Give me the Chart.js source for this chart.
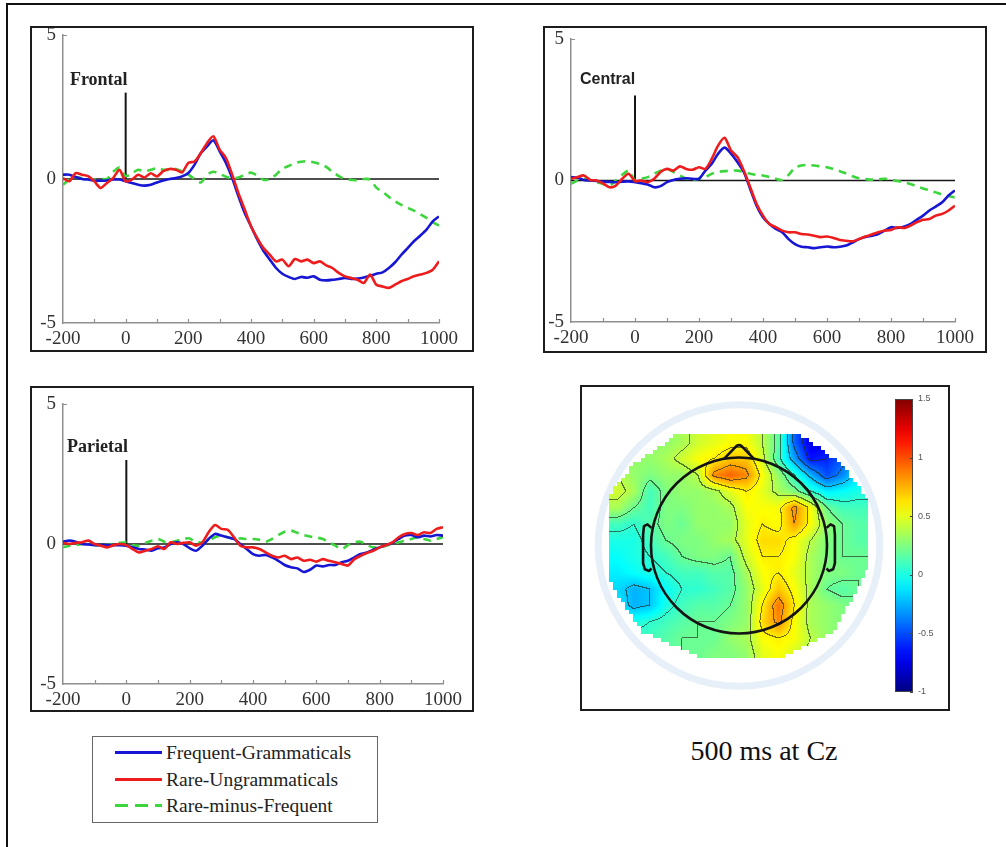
<!DOCTYPE html>
<html>
<head>
<meta charset="utf-8">
<script src="https://cdn.jsdelivr.net/npm/chart.js@4.4.0/dist/chart.umd.min.js"></script>
<style>
  html, body { margin: 0; padding: 0; background: #fff; }
  body { width: 1006px; height: 847px; position: relative; overflow: hidden; font-family: 'Liberation Serif', 'Times New Roman', serif; }
  canvas { position: absolute; }
  .frame { position: absolute; left: 6px; top: 3px; width: 1200px; height: 1000px; border-left: 2px solid #111; border-top: 2px solid #111; }
  .box { position: absolute; box-sizing: border-box; border: 2px solid #1c1c1c; pointer-events: none; }
  #legend { position: absolute; left: 92px; top: 736px; width: 286px; height: 87px; box-sizing: border-box; border: 1.5px solid #666; }
  #legend .row { position: absolute; left: 0; height: 26px; width: 100%; }
  #legend svg { position: absolute; left: 21px; top: 0; }
  #legend span { position: absolute; left: 73px; top: 0px; font-size: 19.5px; line-height: 25px; color: #222; white-space: nowrap; }
  #caption { position: absolute; left: 614px; top: 737px; width: 300px; text-align: center; font-size: 28px; line-height: 28px; color: #111; }
</style>
</head>
<body>
<div class="frame"></div>

<div id="legend"></div>
<div id="caption"></div>

<script>
// ERP sample times (ms)
const times = [-200, -180, -160, -140, -120, -100, -80, -60, -40, -20,
  0, 20, 40, 60, 80, 100, 120, 140, 160, 180,
  200, 220, 240, 260, 280, 300, 320, 340, 360, 380,
  400, 420, 440, 460, 480, 500, 520, 540, 560, 580,
  600, 620, 640, 660, 680, 700, 720, 740, 760, 780,
  800, 820, 840, 860, 880, 900, 920, 940, 960, 980,
  1000];

const seriesNames = ['Frequent-Grammaticals', 'Rare-Ungrammaticals', 'Rare-minus-Frequent'];
const panelNames = ['Frontal', 'Central', 'Parietal'];

// amplitudes (microvolts)
const frontalFrequent = [0.15, 0.15, 0.07, 0.0, -0.02, -0.06, -0.06, -0.05, -0.02, -0.02,
  -0.08, -0.14, -0.2, -0.23, -0.2, -0.12, -0.05, 0.0, 0.03, 0.09,
  0.21, 0.5, 0.9, 1.13, 1.34, 0.96, 0.56, 0.03, -0.6, -1.18,
  -1.64, -2.1, -2.5, -2.8, -3.09, -3.29, -3.4, -3.47, -3.4, -3.43,
  -3.38, -3.5, -3.52, -3.5, -3.47, -3.44, -3.47, -3.46, -3.42, -3.36,
  -3.29, -3.24, -3.09, -2.89, -2.63, -2.4, -2.16, -1.97, -1.76, -1.47,
  -1.3];
const frontalRare = [0.03, -0.08, 0.2, 0.15, 0.1, -0.08, -0.31, -0.14, 0.03, 0.32,
  -0.08, -0.02, 0.15, 0.05, 0.2, 0.09, 0.27, 0.35, 0.32, 0.23,
  0.56, 0.61, 0.9, 1.25, 1.48, 1.02, 0.73, 0.15, -0.49, -1.06,
  -1.64, -2.05, -2.4, -2.63, -2.86, -2.8, -3.03, -2.78, -2.86, -2.8,
  -2.92, -2.86, -3.0, -3.09, -3.26, -3.38, -3.44, -3.5, -3.61, -3.32,
  -3.67, -3.73, -3.78, -3.67, -3.55, -3.47, -3.38, -3.32, -3.26, -3.15,
  -2.86];
const frontalDiff = [-0.2, -0.02, 0.07, 0.03, 0.0, -0.02, 0.0, 0.0, 0.25, 0.4,
  0.1, 0.2, 0.32, 0.27, 0.32, 0.38, 0.32, 0.32, 0.35, 0.27,
  0.15, 0.0, -0.12, 0.15, 0.25, 0.18, 0.08, 0.03, 0.05, 0.15,
  0.22, 0.12, -0.03, 0.0, 0.15, 0.35, 0.45, 0.55, 0.6, 0.62,
  0.58, 0.52, 0.42, 0.25, 0.1, 0.0, -0.03, -0.05, 0.0, -0.02,
  -0.3, -0.45, -0.62, -0.78, -0.9, -1.0, -1.1, -1.22, -1.35, -1.5,
  -1.62];

const centralFrequent = [0.12, 0.1, 0.02, 0.0, -0.02, -0.04, -0.05, -0.06, -0.04, -0.03,
  -0.06, -0.1, -0.14, -0.24, -0.2, -0.06, 0.02, 0.06, 0.08, 0.06,
  0.06, 0.35, 0.59, 0.95, 1.16, 0.95, 0.65, 0.3, -0.3, -0.89,
  -1.3, -1.54, -1.71, -1.83, -2.07, -2.25, -2.34, -2.36, -2.39, -2.36,
  -2.33, -2.36, -2.34, -2.3, -2.19, -2.07, -2.0, -1.95, -1.89, -1.77,
  -1.65, -1.68, -1.63, -1.54, -1.39, -1.24, -1.06, -0.92, -0.77, -0.53,
  -0.35];
const centralRare = [0.06, 0.12, 0.18, 0.02, 0.0, -0.1, -0.24, -0.18, 0.06, 0.24,
  -0.02, 0.0, -0.06, 0.06, 0.3, 0.41, 0.35, 0.5, 0.41, 0.38,
  0.47, 0.41, 0.77, 1.24, 1.51, 1.06, 0.83, 0.35, -0.24, -0.83,
  -1.24, -1.54, -1.65, -1.77, -1.83, -1.83, -1.89, -1.91, -1.95, -2.0,
  -1.98, -2.03, -2.1, -2.13, -2.15, -2.07, -1.98, -1.91, -1.83, -1.77,
  -1.75, -1.65, -1.68, -1.6, -1.48, -1.39, -1.36, -1.24, -1.18, -1.06,
  -0.89];
const centralDiff = [-0.12, 0.0, 0.06, 0.0, -0.06, -0.12, -0.18, 0.0, 0.2, 0.35,
  0.0, 0.06, 0.12, 0.24, 0.35, 0.41, 0.3, 0.18, 0.06, 0.02,
  0.06, 0.12, 0.24, 0.3, 0.33, 0.35, 0.35, 0.3, 0.24, 0.2,
  0.18, 0.12, 0.06, 0.02, 0.2, 0.45, 0.53, 0.55, 0.53, 0.5,
  0.47, 0.4, 0.33, 0.25, 0.15, 0.08, 0.05, 0.03, 0.04, 0.06,
  0.03, -0.02, -0.06, -0.12, -0.2, -0.28, -0.35, -0.42, -0.5, -0.55,
  -0.6];

const parietalFrequent = [0.08, 0.12, 0.08, 0.0, -0.02, -0.04, -0.04, -0.04, -0.04, -0.04,
  -0.06, -0.12, -0.18, -0.2, -0.24, -0.15, -0.12, 0.0, 0.06, 0.0,
  -0.15, -0.24, -0.06, 0.18, 0.36, 0.3, 0.24, 0.18, 0.0, -0.18,
  -0.36, -0.42, -0.39, -0.48, -0.6, -0.75, -0.83, -0.87, -1.0, -0.92,
  -0.77, -0.8, -0.75, -0.75, -0.65, -0.6, -0.48, -0.36, -0.3, -0.2,
  -0.12, -0.04, 0.04, 0.18, 0.3, 0.32, 0.24, 0.3, 0.27, 0.32,
  0.3];
const parietalRare = [0.04, 0.0, 0.04, 0.06, 0.12, 0.0, -0.06, -0.12, -0.04, 0.0,
  -0.04, -0.18, -0.3, -0.24, -0.18, -0.08, -0.18, 0.06, 0.0, 0.04,
  0.06, -0.06, 0.06, 0.42, 0.68, 0.54, 0.51, 0.24, -0.06, -0.12,
  -0.12, -0.18, -0.3, -0.42, -0.48, -0.42, -0.54, -0.48, -0.6, -0.56,
  -0.63, -0.54, -0.6, -0.65, -0.71, -0.77, -0.54, -0.42, -0.32, -0.24,
  -0.12, -0.04, 0.06, 0.24, 0.36, 0.39, 0.32, 0.42, 0.39, 0.54,
  0.6];
const parietalDiff = [-0.12, -0.06, -0.04, 0.0, 0.0, -0.03, -0.06, -0.03, 0.0, 0.04,
  0.06, -0.04, -0.06, 0.04, 0.12, 0.18, 0.08, 0.06, 0.12, 0.18,
  0.2, 0.06, 0.06, 0.12, 0.24, 0.3, 0.24, 0.18, 0.2, 0.18,
  0.18, 0.15, 0.08, 0.18, 0.32, 0.44, 0.48, 0.4, 0.32, 0.27,
  0.23, 0.18, 0.06, -0.06, -0.18, -0.04, 0.06, 0.08, -0.04, -0.12,
  -0.12, -0.06, 0.0, 0.06, 0.12, 0.18, 0.23, 0.18, 0.12, 0.18,
  0.24];

const xTicks = [-200, 0, 200, 400, 600, 800, 1000];
const yTicks = [-5, 0, 5];
const onsetHeight = 3;

// scalp map at 500 ms, rows front (top) to back, columns left to right
const topoValues = [
  [0.3, 0.3, 0.3, 0.3, 0.35, 0.45, 0.5, 0.55, 0.55, 0.4, 0.15, -0.45, -0.75, -0.7, -0.5, -0.3],
  [0.3, 0.3, 0.3, 0.35, 0.45, 0.55, 0.6, 0.7, 0.7, 0.45, 0.1, -0.3, -0.65, -0.6, -0.45, -0.2],
  [0.4, 0.3, 0.25, 0.3, 0.3, 0.4, 0.85, 0.95, 0.85, 0.55, 0.3, 0.05, -0.25, -0.5, -0.35, -0.1],
  [0.45, 0.35, 0.1, 0.25, 0.3, 0.3, 0.35, 0.5, 0.6, 0.5, 0.35, 0.25, 0.05, -0.1, -0.05, 0.0],
  [0.35, 0.2, 0.1, 0.25, 0.25, 0.3, 0.3, 0.35, 0.55, 0.55, 0.55, 0.85, 0.55, 0.2, 0.1, 0.1],
  [0.1, 0.05, 0.15, 0.25, 0.2, 0.3, 0.3, 0.3, 0.5, 0.6, 0.55, 0.8, 0.55, 0.3, 0.2, 0.15],
  [0.0, 0.0, 0.1, 0.2, 0.25, 0.25, 0.3, 0.35, 0.5, 0.65, 0.65, 0.55, 0.4, 0.25, 0.2, 0.15],
  [-0.05, 0.0, 0.05, 0.1, 0.2, 0.25, 0.25, 0.2, 0.45, 0.6, 0.6, 0.55, 0.35, 0.25, 0.2, 0.2],
  [-0.1, -0.05, 0.0, 0.05, 0.1, 0.1, 0.15, 0.15, 0.35, 0.55, 0.6, 0.5, 0.35, 0.25, 0.25, 0.2],
  [-0.15, -0.25, -0.2, -0.05, 0.05, 0.05, 0.1, 0.15, 0.3, 0.5, 0.7, 0.55, 0.35, 0.2, 0.15, 0.2],
  [-0.1, -0.25, -0.2, 0.0, 0.1, 0.15, 0.15, 0.2, 0.3, 0.6, 0.9, 0.6, 0.35, 0.3, 0.25, 0.2],
  [0.0, 0.0, 0.05, 0.1, 0.15, 0.2, 0.2, 0.25, 0.3, 0.65, 0.85, 0.55, 0.35, 0.3, 0.25, 0.2],
  [0.1, 0.1, 0.1, 0.15, 0.2, 0.2, 0.2, 0.3, 0.35, 0.55, 0.6, 0.55, 0.4, 0.3, 0.25, 0.2],
  [0.1, 0.1, 0.15, 0.15, 0.2, 0.2, 0.25, 0.25, 0.3, 0.5, 0.55, 0.45, 0.35, 0.3, 0.25, 0.2]
];
const colorbarTicks = [-1, -0.5, 0, 0.5, 1, 1.5];
const contourLevels = [-0.6, -0.4, -0.2, 0.05, 0.2, 0.4, 0.6, 0.8];
const captionText = '500 ms at Cz';

// ---- styling / layout ----
const seriesColors = ['#1616d4', '#ee1c1c', '#3cd63c'];
const axisGray = '#8f8f8f';
const tickFont = { family: "'Liberation Serif', serif", size: 19 };

const erpPanels = [
  { name: panelNames[0], box: [31, 27, 473, 351], area: [63, 35, 439, 323], label: [-178, 3.44],
    labelFont: "bold 18px 'Liberation Serif'", series: [frontalFrequent, frontalRare, frontalDiff] },
  { name: panelNames[1], box: [544, 27, 986, 352], area: [571, 39, 955, 322], label: [-172, 3.55],
    labelFont: "bold 16px 'Liberation Sans'", series: [centralFrequent, centralRare, centralDiff] },
  { name: panelNames[2], box: [31, 387, 473, 711], area: [63, 404, 443, 684], label: [-187, 3.46],
    labelFont: "bold 18px 'Liberation Serif'", series: [parietalFrequent, parietalRare, parietalDiff] }
];

function placeCanvas(left, top, w, h) {
  const c = document.createElement('canvas');
  c.width = w; c.height = h;
  Object.assign(c.style, { left: left + 'px', top: top + 'px', width: w + 'px', height: h + 'px' });
  document.body.appendChild(c);
  return c;
}

function placeBox(l, t, r, b) {
  const d = document.createElement('div');
  d.className = 'box';
  Object.assign(d.style, { left: (l - 1) + 'px', top: (t - 1) + 'px', width: (r - l + 2) + 'px', height: (b - t + 2) + 'px' });
  document.body.appendChild(d);
}

const plainNumber = v => String(v);

function buildErpChart(panel) {
  const [bl, bt, br, bb] = panel.box;
  const [al, at, ar, ab] = panel.area;
  const cl = bl, ct = bt - 16, cw = br - bl, ch = bb - ct;
  const canvas = placeCanvas(cl, ct, cw, ch);
  placeBox(bl, bt, br, bb);

  const pts = vals => times.map((t, i) => ({ x: t, y: vals[i] }));

  // minor ticks, top tick and the region name
  const decor = {
    id: 'erpDecor',
    afterDraw(chart) {
      const { ctx } = chart;
      const xs = chart.scales.x, ys = chart.scales.y;
      ctx.save();
      ctx.strokeStyle = axisGray;
      ctx.lineWidth = 1.2;
      ctx.beginPath();
      for (let t = xs.min + 100; t <= xs.max; t += 100) {
        const px = Math.round(xs.getPixelForValue(t)) + 0.5;
        ctx.moveTo(px, ys.bottom);
        ctx.lineTo(px, ys.bottom - 4);
      }
      const topY = Math.round(ys.getPixelForValue(ys.max)) + 0.5;
      ctx.moveTo(xs.left, topY);
      ctx.lineTo(xs.left + 4, topY);
      ctx.stroke();

      ctx.font = panel.labelFont;
      ctx.fillStyle = '#222';
      ctx.textBaseline = 'middle';
      ctx.textAlign = 'left';
      ctx.fillText(panel.name, xs.getPixelForValue(panel.label[0]), ys.getPixelForValue(panel.label[1]));
      ctx.restore();
    }
  };

  return new Chart(canvas, {
    type: 'line',
    data: {
      datasets: [
        { label: 'baseline', data: [{ x: times[0], y: 0 }, { x: times[times.length - 1], y: 0 }],
          borderColor: '#151515', borderWidth: 1.6, tension: 0, order: 10 },
        { label: 'onset', data: [{ x: 0, y: 0 }, { x: 0, y: onsetHeight }],
          borderColor: '#151515', borderWidth: 2, tension: 0, order: 9 },
        { label: seriesNames[2], data: pts(panel.series[2]), borderColor: seriesColors[2],
          borderWidth: 2.6, borderDash: [8, 6], order: 3 },
        { label: seriesNames[0], data: pts(panel.series[0]), borderColor: seriesColors[0],
          borderWidth: 2.6, order: 2 },
        { label: seriesNames[1], data: pts(panel.series[1]), borderColor: seriesColors[1],
          borderWidth: 2.6, order: 1 }
      ]
    },
    options: {
      responsive: false,
      animation: false,
      events: [],
      layout: { padding: { left: 0, top: at - ct, right: (cl + cw) - ar, bottom: 0 } },
      elements: { point: { radius: 0 }, line: { tension: 0.25, borderJoinStyle: 'round' } },
      plugins: { legend: { display: false }, tooltip: { enabled: false } },
      scales: {
        x: {
          type: 'linear', min: -200, max: 1000,
          afterBuildTicks: s => { s.ticks = xTicks.map(v => ({ value: v })); },
          afterFit: s => { s.height = (ct + ch) - ab; },
          grid: { display: false, drawTicks: false },
          border: { color: axisGray, width: 1.5 },
          ticks: { font: tickFont, color: '#333', padding: 5, maxRotation: 0, autoSkip: false, callback: plainNumber }
        },
        y: {
          type: 'linear', min: -5, max: 5,
          afterBuildTicks: s => { s.ticks = yTicks.map(v => ({ value: v })); },
          afterFit: s => { s.width = al - cl; },
          grid: { display: false, drawTicks: false },
          border: { color: axisGray, width: 1.5 },
          ticks: { font: tickFont, color: '#333', padding: 7, callback: plainNumber }
        }
      }
    },
    plugins: [decor]
  });
}

document.addEventListener('DOMContentLoaded', function() {
  erpPanels.forEach(buildErpChart);
  buildTopoChart();
  buildLegend();
  document.getElementById('caption').textContent = captionText;
});

// ---- scalp map ----
const topoExtent = { xMin: -1.466, xMax: 1.455, yMin: -1.33, yMax: 1.261 };
const topoOutline = [[-0.705, 1.261], [0.693, 1.261], [1.15, 0.94], [1.455, 0.545], [1.455, -0.3],
  [1.07, -0.99], [0.42, -1.30], [-0.35, -1.30], [-1.09, -0.99], [-1.466, -0.42], [-1.466, 0.59], [-1.2, 0.92]];

function jet(t) {
  const c = x => Math.max(0, Math.min(1, x));
  return [c(1.5 - Math.abs(4 * t - 3)), c(1.5 - Math.abs(4 * t - 2)), c(1.5 - Math.abs(4 * t - 1))];
}

function insideOutline(u, v) {
  let inside = false;
  for (let i = 0, j = topoOutline.length - 1; i < topoOutline.length; j = i++) {
    const [xi, yi] = topoOutline[i], [xj, yj] = topoOutline[j];
    if ((yi > v) !== (yj > v) && u < (xj - xi) * (v - yi) / (yj - yi) + xi) inside = !inside;
  }
  return inside;
}

function sampleTopo(u, v) {
  const rows = topoValues.length, cols = topoValues[0].length;
  let gx = (u - topoExtent.xMin) / (topoExtent.xMax - topoExtent.xMin) * cols - 0.5;
  let gy = (topoExtent.yMax - v) / (topoExtent.yMax - topoExtent.yMin) * rows - 0.5;
  gx = Math.max(0, Math.min(cols - 1, gx));
  gy = Math.max(0, Math.min(rows - 1, gy));
  const x0 = Math.floor(gx), y0 = Math.floor(gy);
  const x1 = Math.min(x0 + 1, cols - 1), y1 = Math.min(y0 + 1, rows - 1);
  const fx = gx - x0, fy = gy - y0;
  const a = topoValues[y0][x0] * (1 - fx) + topoValues[y0][x1] * fx;
  const b = topoValues[y1][x0] * (1 - fx) + topoValues[y1][x1] * fx;
  return a * (1 - fy) + b * fy;
}

function levelOf(val) {
  let n = 0;
  for (const l of contourLevels) if (val >= l) n++;
  return n;
}

const topoPlugin = {
  id: 'topoMap',
  afterDraw(chart) {
    const { ctx } = chart;
    const xs = chart.scales.x, ys = chart.scales.y, cb = chart.scales.cb;
    const cx = xs.getPixelForValue(0), cy = ys.getPixelForValue(0);
    const unit = xs.getPixelForValue(1) - cx;

    // pale outer ring
    ctx.save();
    ctx.strokeStyle = '#e7eff9';
    ctx.lineWidth = 7;
    ctx.beginPath();
    ctx.arc(cx, cy, 1.6 * unit, 0, Math.PI * 2);
    ctx.stroke();
    ctx.restore();

    // interpolated field
    const left = Math.floor(xs.getPixelForValue(topoExtent.xMin));
    const right = Math.ceil(xs.getPixelForValue(topoExtent.xMax));
    const top = Math.floor(ys.getPixelForValue(topoExtent.yMax));
    const bottom = Math.ceil(ys.getPixelForValue(topoExtent.yMin));
    const w = right - left, h = bottom - top;
    const field = new Float32Array(w * h);
    const mask = new Uint8Array(w * h);
    const block = 4;
    for (let py = 0; py < h; py++) {
      for (let px = 0; px < w; px++) {
        const u = xs.getValueForPixel(left + px + 0.5);
        const v = ys.getValueForPixel(top + py + 0.5);
        field[py * w + px] = sampleTopo(u, v);
        const bx = Math.floor(px / block) * block + block / 2;
        const by = Math.floor(py / block) * block + block / 2;
        mask[py * w + px] = insideOutline(xs.getValueForPixel(left + bx), ys.getValueForPixel(top + by)) ? 1 : 0;
      }
    }
    const off = document.createElement('canvas');
    off.width = w; off.height = h;
    const octx = off.getContext('2d');
    const img = octx.createImageData(w, h);
    for (let py = 0; py < h; py++) {
      for (let px = 0; px < w; px++) {
        const i = py * w + px;
        if (!mask[i]) continue;
        const val = field[i];
        let [r, g, b] = jet((val - cb.min) / (cb.max - cb.min));
        const lv = levelOf(val);
        const edge = (px + 1 < w && mask[i + 1] && levelOf(field[i + 1]) !== lv) ||
                     (py + 1 < h && mask[i + w] && levelOf(field[i + w]) !== lv);
        if (edge) { r = r * 0.35 + 0.08; g = g * 0.35 + 0.1; b = b * 0.35 + 0.08; }
        img.data[i * 4] = r * 255;
        img.data[i * 4 + 1] = g * 255;
        img.data[i * 4 + 2] = b * 255;
        img.data[i * 4 + 3] = 255;
      }
    }
    octx.putImageData(img, 0, 0);
    ctx.drawImage(off, left, top);

    // head outline, nose and ears
    const P = (u, v) => [xs.getPixelForValue(u), ys.getPixelForValue(v)];
    ctx.save();
    ctx.strokeStyle = '#141414';
    ctx.lineWidth = 2.6;
    ctx.lineJoin = 'round';
    ctx.beginPath();
    ctx.arc(cx, cy, unit, 0, Math.PI * 2);
    ctx.stroke();
    ctx.beginPath();
    ctx.moveTo(...P(-0.17, 0.985));
    ctx.lineTo(...P(-0.03, 1.13));
    ctx.quadraticCurveTo(...P(0, 1.15), ...P(0.03, 1.13));
    ctx.lineTo(...P(0.17, 0.985));
    ctx.stroke();
    [-1, 1].forEach(s => {
      ctx.beginPath();
      ctx.moveTo(...P(s * 0.995, 0.2));
      ctx.lineTo(...P(s * 1.04, 0.24));
      ctx.lineTo(...P(s * 1.08, 0.22));
      ctx.lineTo(...P(s * 1.09, 0.12));
      ctx.lineTo(...P(s * 1.09, -0.2));
      ctx.lineTo(...P(s * 1.07, -0.27));
      ctx.lineTo(...P(s * 1.02, -0.29));
      ctx.lineTo(...P(s * 0.995, -0.26));
      ctx.stroke();
    });
    ctx.restore();

    // colour bar on the cb scale
    const barL = chart.chartArea.right + 9, barW = 18;
    const yTop = cb.getPixelForValue(cb.max), yBot = cb.getPixelForValue(cb.min);
    const grad = ctx.createLinearGradient(0, yBot, 0, yTop);
    for (let k = 0; k <= 20; k++) {
      const [r, g, b] = jet(k / 20);
      grad.addColorStop(k / 20, `rgb(${Math.round(r * 255)},${Math.round(g * 255)},${Math.round(b * 255)})`);
    }
    ctx.save();
    ctx.fillStyle = grad;
    ctx.fillRect(barL, yTop, barW, yBot - yTop);
    ctx.strokeStyle = '#444';
    ctx.lineWidth = 1;
    ctx.strokeRect(barL + 0.5, yTop + 0.5, barW - 1, yBot - yTop - 1);
    ctx.beginPath();
    colorbarTicks.forEach(v => {
      const y = Math.round(cb.getPixelForValue(v)) + 0.5;
      ctx.moveTo(barL + barW - 3, y);
      ctx.lineTo(barL + barW, y);
    });
    ctx.stroke();
    ctx.restore();
  }
};

function buildTopoChart() {
  const box = [581, 386, 949, 710];
  const area = [592, 399, 886, 692];
  const w = box[2] - box[0], h = box[3] - box[1];
  const canvas = placeCanvas(box[0], box[1], w, h);
  placeBox(box[0], box[1], box[2], box[3]);
  const halfX = (area[2] - area[0]) / 2 / 88, halfY = (area[3] - area[1]) / 2 / 88;

  new Chart(canvas, {
    type: 'scatter',
    data: { datasets: [] },
    options: {
      responsive: false,
      animation: false,
      events: [],
      layout: { padding: { left: area[0] - box[0], top: area[1] - box[1], right: 0, bottom: box[3] - area[3] } },
      plugins: { legend: { display: false }, tooltip: { enabled: false } },
      scales: {
        x: { type: 'linear', display: false, min: -halfX, max: halfX },
        y: { type: 'linear', display: false, min: -halfY, max: halfY },
        cb: {
          type: 'linear', position: 'right', min: -1, max: 1.5,
          afterBuildTicks: s => { s.ticks = colorbarTicks.map(v => ({ value: v })); },
          afterFit: s => { s.width = box[2] - area[2]; },
          // tick marks hidden, their length only offsets the labels past the bar
          grid: { display: false, drawTicks: true, tickLength: 30 },
          border: { display: false },
          ticks: { padding: 2, color: '#555', callback: plainNumber,
                   font: { family: "'Liberation Sans', sans-serif", size: 9 } }
        }
      }
    },
    plugins: [topoPlugin]
  });
}

// ---- legend box ----
function buildLegend() {
  const legend = document.getElementById('legend');
  [0, 1, 2].forEach((k, i) => {
    const row = document.createElement('div');
    row.className = 'row';
    row.style.top = (3 + i * 26.5) + 'px';
    const dash = k === 2 ? 'stroke-dasharray="13 7"' : '';
    row.innerHTML = `<svg width="52" height="26"><line x1="1" y1="12.5" x2="48" y2="12.5" stroke="${seriesColors[k]}" stroke-width="3" ${dash}/></svg><span>${seriesNames[k]}</span>`;
    legend.appendChild(row);
  });
}
</script>
</body>
</html>
